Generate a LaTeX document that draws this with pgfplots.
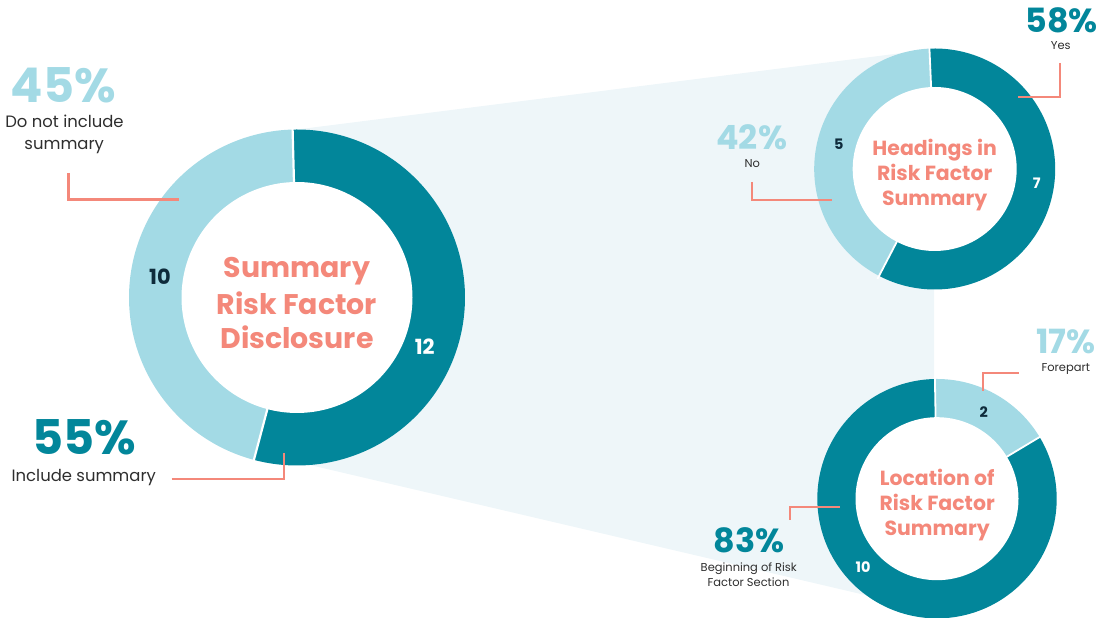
\documentclass[border=0pt]{standalone}
\usepackage{fontspec}
\setmainfont{Poppins}
\usepackage{pgfplots}
\usepackage{pgfplotstable}
\pgfplotsset{compat=1.18}

\definecolor{cDark}{HTML}{02869A}
\definecolor{cLight}{HTML}{A3DAE5}
\definecolor{cSalmon}{HTML}{F4887A}
\definecolor{cNavy}{HTML}{0E2B3B}
\definecolor{cBg}{HTML}{EEF6F9}
\definecolor{cText}{HTML}{2E2E2E}

% Summary risk factor disclosure
\pgfplotstableread{
segment value
Include 12
NotInclude 10
}\tabMain
% Headings in risk factor summary
\pgfplotstableread{
segment value
Yes 7
No 5
}\tabHead
% Location of risk factor summary
\pgfplotstableread{
segment value
Forepart 2
Beginning 10
}\tabLoc

\pgfplotstablegetelem{0}{value}\of\tabMain\pgfmathsetmacro\mainA{\pgfplotsretval}
\pgfplotstablegetelem{1}{value}\of\tabMain\pgfmathsetmacro\mainB{\pgfplotsretval}
\pgfmathsetmacro\mainS{91.5}
\pgfmathsetmacro\mainE{\mainS-360*\mainA/(\mainA+\mainB)}
\pgfmathsetmacro\mainF{\mainS-360}

\pgfplotstablegetelem{0}{value}\of\tabHead\pgfmathsetmacro\headA{\pgfplotsretval}
\pgfplotstablegetelem{1}{value}\of\tabHead\pgfmathsetmacro\headB{\pgfplotsretval}
\pgfmathsetmacro\headS{92.5}
\pgfmathsetmacro\headE{\headS-360*\headA/(\headA+\headB)}
\pgfmathsetmacro\headF{\headS-360}

\pgfplotstablegetelem{0}{value}\of\tabLoc\pgfmathsetmacro\locA{\pgfplotsretval}
\pgfplotstablegetelem{1}{value}\of\tabLoc\pgfmathsetmacro\locB{\pgfplotsretval}
\pgfmathsetmacro\locS{91}
\pgfmathsetmacro\locE{\locS-360*\locA/(\locA+\locB)}
\pgfmathsetmacro\locF{\locS-360}

\tikzset{
  every node/.append style={inner sep=0pt,outer sep=0pt},
  pctbig/.style={font=\fontsize{48}{50}\selectfont\bfseries,anchor=base,text depth=0pt},
  pctsm/.style={font=\fontsize{33.5}{35}\selectfont\bfseries,anchor=base,text depth=0pt},
  lblbig/.style={font=\fontsize{16.5}{18}\selectfont,anchor=base,text=cText,text height=12bp},
  lblsm/.style={font=\fontsize{11.5}{13}\selectfont,anchor=base,text=cText,text height=8.5bp},
  ttlbig/.style={font=\fontsize{28.5}{30}\selectfont\bfseries,anchor=base,text=cSalmon},
  ttlsm/.style={font=\fontsize{20.5}{22}\selectfont\bfseries,anchor=base,text=cSalmon},
  valbig/.style={font=\fontsize{21}{23}\selectfont\bfseries,anchor=base},
  valsm/.style={font=\fontsize{14.5}{16}\selectfont\bfseries,anchor=base},
}

\begin{document}
\begin{tikzpicture}
\begin{axis}[x=1bp,y=1bp,xmin=0,xmax=1099,ymin=0,ymax=618,hide axis,clip=false,
  samples=150]
% connecting background band
\addplot[draw=none,fill=cBg] coordinates {(297,488.5) (934,569) (934,18) (880,19.5) (297,156)} -- cycle;

% ---- main donut (centre 297,320.5)
\addplot[draw=none,fill=cDark,domain=\mainE:\mainS,variable=\t] ({297+168*cos(\t)},{320.5+168*sin(\t)}) -- (axis cs:297,320.5) -- cycle;
\addplot[draw=none,fill=cLight,domain=\mainF:\mainE,variable=\t] ({297+168*cos(\t)},{320.5+168*sin(\t)}) -- (axis cs:297,320.5) -- cycle;
\addplot[white,line width=2.2bp,domain=0:172,samples=2,variable=\t] ({297+\t*cos(\mainS)},{320.5+\t*sin(\mainS)});
\addplot[white,line width=2.2bp,domain=0:172,samples=2,variable=\t] ({297+\t*cos(\mainE)},{320.5+\t*sin(\mainE)});
\addplot[draw=none,fill=white,domain=0:360,variable=\t] ({297+115.5*cos(\t)},{320.5+115.5*sin(\t)}) -- cycle;

% ---- headings donut (centre 934.7,449)
\addplot[draw=none,fill=cDark,domain=\headE:\headS,variable=\t] ({934.7+120.5*cos(\t)},{449+120.5*sin(\t)}) -- (axis cs:934.7,449) -- cycle;
\addplot[draw=none,fill=cLight,domain=\headF:\headE,variable=\t] ({934.7+120.5*cos(\t)},{449+120.5*sin(\t)}) -- (axis cs:934.7,449) -- cycle;
\addplot[white,line width=1.8bp,domain=0:124,samples=2,variable=\t] ({934.7+\t*cos(\headS)},{449+\t*sin(\headS)});
\addplot[white,line width=1.8bp,domain=0:124,samples=2,variable=\t] ({934.7+\t*cos(\headE)},{449+\t*sin(\headE)});
\addplot[draw=none,fill=white,domain=0:360,variable=\t] ({934.7+82*cos(\t)},{449+82*sin(\t)}) -- cycle;

% ---- location donut (centre 937,119.3)
\addplot[draw=none,fill=cLight,domain=\locE:\locS,variable=\t] ({937+119.7*cos(\t)},{119.3+119.7*sin(\t)}) -- (axis cs:937,119.3) -- cycle;
\addplot[draw=none,fill=cDark,domain=\locF:\locE,variable=\t] ({937+119.7*cos(\t)},{119.3+119.7*sin(\t)}) -- (axis cs:937,119.3) -- cycle;
\addplot[white,line width=1.8bp,domain=0:123,samples=2,variable=\t] ({937+\t*cos(\locS)},{119.3+\t*sin(\locS)});
\addplot[white,line width=1.8bp,domain=0:123,samples=2,variable=\t] ({937+\t*cos(\locE)},{119.3+\t*sin(\locE)});
\addplot[draw=none,fill=white,domain=0:360,variable=\t] ({937+81.5*cos(\t)},{119.3+81.5*sin(\t)}) -- cycle;

% ---- leader lines
\addplot[cSalmon,line width=2.8bp] coordinates {(68.3,445) (68.3,418.7) (179.3,418.7)};
\addplot[cSalmon,line width=2.8bp] coordinates {(171.7,139) (284,139) (284,165.3)};
\addplot[cSalmon,line width=2bp] coordinates {(1060,555) (1060,521.3) (1018,521.3)};
\addplot[cSalmon,line width=2bp] coordinates {(752,436) (752,417.5) (831.7,417.5)};
\addplot[cSalmon,line width=2bp] coordinates {(983,227) (983,245) (1019,245)};
\addplot[cSalmon,line width=2bp] coordinates {(790,98) (790,111) (840,111)};

% ---- titles in the centres
\node[ttlbig] at (axis cs:297,340) {Summary};
\node[ttlbig] at (axis cs:297,303) {Risk Factor};
\node[ttlbig] at (axis cs:297,269) {Disclosure};
\node[ttlsm] at (axis cs:934.7,462) {Headings in};
\node[ttlsm] at (axis cs:934.7,437) {Risk Factor};
\node[ttlsm] at (axis cs:934.7,412.5) {Summary};
\node[ttlsm] at (axis cs:937.2,132) {Location of};
\node[ttlsm] at (axis cs:937.2,107) {Risk Factor};
\node[ttlsm] at (axis cs:937.2,82.5) {Summary};

% ---- values on the rings
\node[valbig,text=cNavy] at (axis cs:160,333) {10};
\node[valbig,text=white] at (axis cs:424.7,263) {12};
\node[valsm,text=cNavy] at (axis cs:838.7,468) {5};
\node[valsm,text=white] at (axis cs:1036.8,429.7) {7};
\node[valsm,text=cNavy] at (axis cs:983.7,200.7) {2};
\node[valsm,text=white] at (axis cs:863,45.3) {10};

% ---- percentages and labels
\node[pctbig,text=cLight] at (axis cs:63.5,515) {45\%};
\node[lblbig] at (axis cs:64.5,490.7) {Do not include};
\node[lblbig] at (axis cs:64.2,468.7) {summary};
\node[pctbig,text=cDark] at (axis cs:84,163) {55\%};
\node[lblbig] at (axis cs:83.8,136.3) {Include summary};

\node[pctsm,text=cDark] at (axis cs:1061.7,585.7) {58\%};
\node[lblsm] at (axis cs:1060.8,568.7) {Yes};
\node[pctsm,text=cLight] at (axis cs:751.7,468) {42\%};
\node[lblsm] at (axis cs:752.3,450.7) {No};
\node[pctsm,text=cLight] at (axis cs:1065.8,264.7) {17\%};
\node[lblsm] at (axis cs:1065.8,246.3) {Forepart};
\node[pctsm,text=cDark] at (axis cs:749.2,65.3) {83\%};
\node[lblsm] at (axis cs:748.8,46.3) {Beginning of Risk};
\node[lblsm] at (axis cs:748.5,31.3) {Factor Section};
\end{axis}
\pgfresetboundingbox
\path[use as bounding box] (current axis.south west) rectangle (current axis.north east);
\end{tikzpicture}
\end{document}
